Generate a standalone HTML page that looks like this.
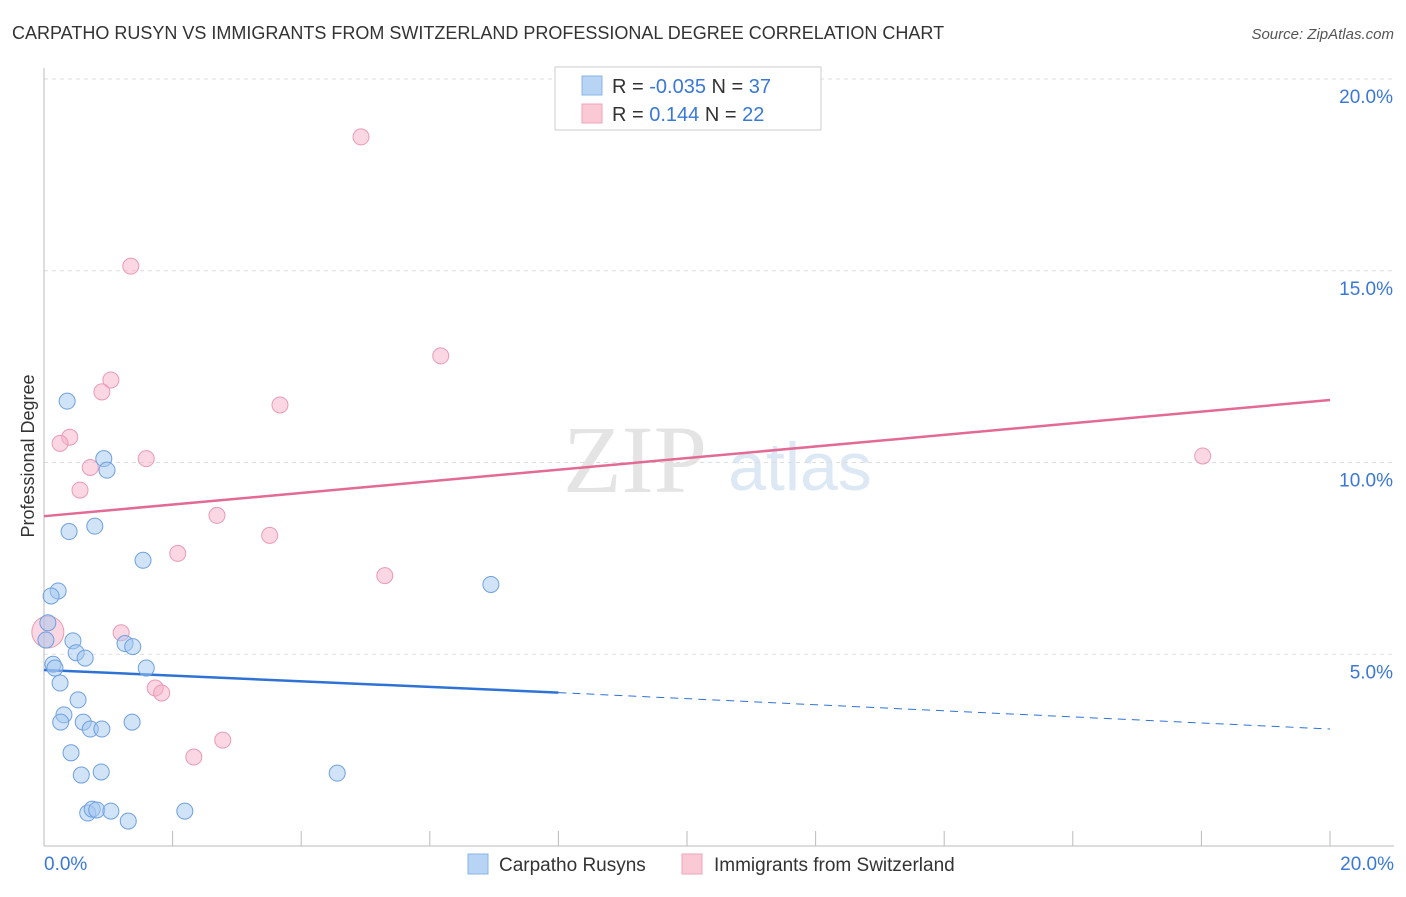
<!DOCTYPE html>
<html><head><meta charset="utf-8"><style>
body{margin:0;background:#fff;font-family:"Liberation Sans",sans-serif;}
</style></head><body>
<svg id="chart" width="1406" height="892" xmlns="http://www.w3.org/2000/svg">
<text x="12" y="39" font-size="18" fill="#333">CARPATHO RUSYN VS IMMIGRANTS FROM SWITZERLAND PROFESSIONAL DEGREE CORRELATION CHART</text>
<text x="1394" y="39" font-size="15" fill="#555" text-anchor="end" font-style="italic">Source: ZipAtlas.com</text>
<text x="635" y="492" font-size="96" fill="#e4e4e4" font-family="Liberation Serif,serif" text-anchor="middle">ZIP</text>
<text x="800" y="490" font-size="68" fill="#dde8f5" text-anchor="middle">atlas</text>
<g id="grid"></g><g id="axes"></g><g id="lines"></g><g id="points"></g>
<text transform="translate(34,456) rotate(-90)" font-size="18" fill="#333" text-anchor="middle">Professional Degree</text>
<g>
<rect x="555" y="67" width="266" height="63" fill="#fff" stroke="#ccc"/>
<rect x="582" y="76" width="20" height="19" fill="#b8d4f5" stroke="#8ab4e8"/>
<rect x="582" y="104" width="20" height="19" fill="#f9c9d6" stroke="#efa5ba"/>
<text x="612" y="93" font-size="20" fill="#333">R = <tspan fill="#3a78d8">-0.035</tspan>   N = <tspan fill="#3a78d8">37</tspan></text>
<text x="612" y="121" font-size="20" fill="#333">R =   <tspan fill="#3a78d8">0.144</tspan>   N = <tspan fill="#3a78d8">22</tspan></text>
</g>
<g>
<rect x="468" y="854" width="20" height="20" fill="#b8d4f5" stroke="#8ab4e8"/>
<text x="499" y="871" font-size="19" fill="#333">Carpatho Rusyns</text>
<rect x="682" y="854" width="20" height="20" fill="#f9c9d6" stroke="#efa5ba"/>
<text x="714" y="871" font-size="19" fill="#333">Immigrants from Switzerland</text>
</g>
</svg>
<script>
const blueX=[0.36,0.39,0.79,0.93,0.98,1.54,6.95,0.22,0.11,0.06,0.03,0.45,0.5,0.64,1.26,1.38,0.14,0.17,1.59,0.25,0.53,0.31,0.26,0.61,0.72,0.9,1.37,0.42,0.58,0.89,4.56,0.68,0.75,0.82,1.04,1.31,2.19];
const blueY=[11.6,8.2,8.34,10.1,9.8,7.45,6.82,6.65,6.52,5.82,5.37,5.35,5.04,4.9,5.28,5.2,4.74,4.64,4.64,4.25,3.81,3.42,3.23,3.23,3.05,3.05,3.23,2.43,1.85,1.93,1.9,0.86,0.96,0.94,0.91,0.65,0.91];
const pinkX=[4.93,1.35,6.17,1.04,0.9,3.67,0.4,0.25,0.72,1.59,0.56,2.69,3.51,2.08,5.3,0.06,1.2,1.73,1.83,2.78,2.33,18.02];
const pinkY=[18.49,15.12,12.78,12.15,11.84,11.5,10.66,10.5,9.87,10.1,9.28,8.62,8.1,7.63,7.05,5.58,5.56,4.12,3.99,2.76,2.32,10.17];
const pinkR=[8,8,8,8,8,8,8,8,8,8,8,8,8,8,8,16,8,8,8,8,8,8];
const pinkTrendX=[0,20], pinkTrendY=[8.6,11.63];
const blueTrendX=[0,8,20], blueTrendY=[4.59,4.0,3.05];
const yTicks=[5,10,15,20], yTickLabels=["5.0%","10.0%","15.0%","20.0%"];
const xTicks=[0,2,4,6,8,10,12,14,16,18,20];
const X=v=>44+v*64.3, Y=v=>846-v*38.35;
const NS="http://www.w3.org/2000/svg";
function mk(p,tag,a){const e=document.createElementNS(NS,tag);for(const k in a)e.setAttribute(k,a[k]);document.getElementById(p).appendChild(e);return e;}
yTicks.forEach((t,i)=>{
 const l=mk('grid','line',{x1:44,x2:1394,y1:Y(t),y2:Y(t),stroke:'#ddd','stroke-dasharray':'4,4'});
 
 
 const tx=mk('grid','text',{x:1393,y:Y(t)+24,'font-size':19,fill:'#3a78d8','text-anchor':'end'});tx.textContent=yTickLabels[i];
 
 
});
const ax=mk('axes','line',{x1:44,x2:44,y1:68,y2:846,stroke:'#bbb'});


const bx=mk('axes','line',{x1:44,x2:1394,y1:846,y2:846,stroke:'#bbb'});


xTicks.forEach(t=>{const l=mk('axes','line',{x1:X(t),x2:X(t),y1:846,y2:831,stroke:'#bbb'});
 
 });
[[0,"0.0%","start",44],[20,"20.0%","end",1394]].forEach(d=>{const t=mk('axes','text',{x:d[3],y:870,'font-size':19,fill:'#3a78d8','text-anchor':d[2]});t.textContent=d[1];
 
 });
const pl=mk('lines','line',{x1:X(pinkTrendX[0]),y1:Y(pinkTrendY[0]),x2:X(pinkTrendX[1]),y2:Y(pinkTrendY[1]),stroke:'#e36a94','stroke-width':2.5});


const bl=mk('lines','line',{x1:X(blueTrendX[0]),y1:Y(blueTrendY[0]),x2:X(blueTrendX[1]),y2:Y(blueTrendY[1]),stroke:'#2f72d6','stroke-width':2.5});


const bd=mk('lines','line',{x1:X(blueTrendX[1]),y1:Y(blueTrendY[1]),x2:X(blueTrendX[2]),y2:Y(blueTrendY[2]),stroke:'#2f72d6','stroke-width':1,'stroke-dasharray':'8,6'});


pinkX.forEach((v,i)=>{const c=mk('points','circle',{cx:X(v),cy:Y(pinkY[i]),r:pinkR[i],fill:'rgba(246,176,198,0.5)',stroke:'#eb9ab4','stroke-width':1});
 
 });
blueX.forEach((v,i)=>{const c=mk('points','circle',{cx:X(v),cy:Y(blueY[i]),r:8,fill:'rgba(164,199,240,0.5)',stroke:'#6ea0e0','stroke-width':1});
 
 });
</script>
</body></html>
